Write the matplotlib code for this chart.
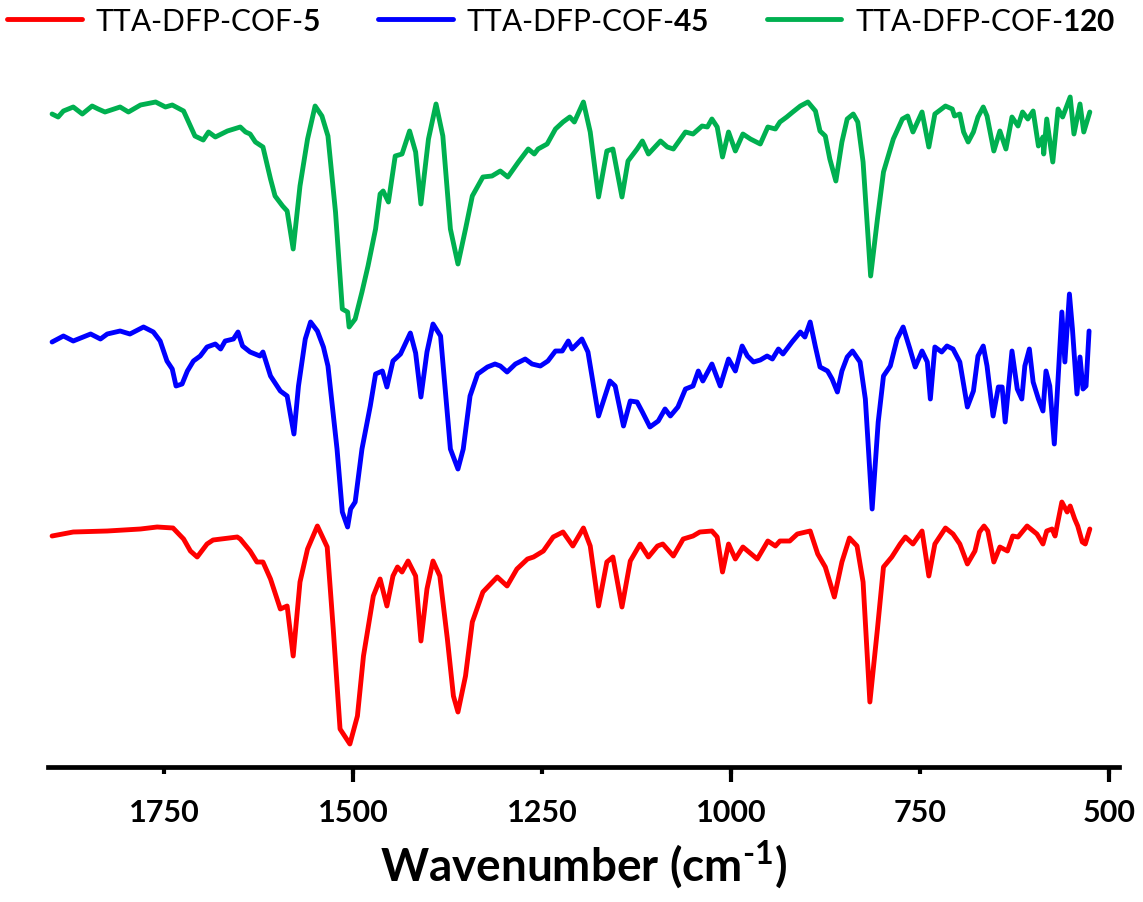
import matplotlib
matplotlib.use("Agg")
import matplotlib.pyplot as plt
from matplotlib.ticker import MultipleLocator

# FTIR spectra, stacked (a.u.), wavenumber in cm-1
wn_5 = [1898, 1870, 1825, 1781, 1759, 1738, 1724, 1715, 1706, 1693,
        1685, 1653, 1649, 1636, 1627, 1619, 1609, 1596, 1587, 1579,
        1570, 1560, 1547, 1534, 1526, 1517, 1504, 1494, 1486, 1473,
        1464, 1455, 1447, 1441, 1435, 1427, 1417, 1410, 1402, 1394,
        1385, 1375, 1367, 1361, 1351, 1342, 1328, 1309, 1296, 1283,
        1269, 1261, 1248, 1235, 1222, 1209, 1195, 1186, 1175, 1164,
        1156, 1144, 1133, 1120, 1109, 1097, 1090, 1076, 1063, 1050,
        1041, 1025, 1018, 1011, 1003, 994, 984, 965, 951, 941,
        935, 922, 912, 895, 885, 875, 863, 853, 843, 833,
        825, 816, 806, 798, 787, 776, 769, 759, 747, 738,
        730, 716, 706, 697, 687, 677, 671, 665, 660, 652,
        644, 634, 627, 620, 608, 595, 587, 582, 575, 571,
        562, 555, 551, 545, 541, 535, 531, 525]
t_5 = [229, 233, 234, 236, 238, 237, 226, 214, 208, 221,
       225, 228, 226, 214, 203, 203, 186, 156, 159, 109,
       183, 216, 239, 218, 136, 36, 21, 49, 109, 169,
       186, 159, 189, 198, 193, 204, 189, 124, 176, 204,
       189, 126, 69, 53, 89, 143, 173, 188, 179, 196,
       206, 208, 214, 228, 233, 219, 237, 219, 159, 203,
       208, 158, 204, 221, 208, 219, 221, 209, 226, 229,
       233, 234, 228, 193, 221, 206, 218, 206, 224, 219,
       224, 224, 231, 234, 211, 198, 168, 203, 227, 219,
       183, 63, 136, 198, 208, 221, 228, 221, 234, 189,
       221, 237, 231, 221, 201, 214, 233, 239, 234, 203,
       218, 214, 229, 228, 239, 231, 221, 234, 236, 229,
       263, 253, 259, 246, 239, 223, 221, 236]

wn_45 = [1898, 1883, 1870, 1847, 1834, 1825, 1808, 1795, 1777, 1764,
         1755, 1746, 1739, 1734, 1726, 1719, 1711, 1702, 1693, 1682,
         1675, 1669, 1658, 1652, 1646, 1636, 1623, 1619, 1609, 1596,
         1587, 1578, 1572, 1563, 1556, 1547, 1539, 1533, 1521, 1514,
         1507, 1503, 1497, 1488, 1477, 1470, 1461, 1455, 1447, 1437,
         1424, 1417, 1410, 1402, 1394, 1384, 1371, 1361, 1354, 1345,
         1335, 1322, 1312, 1305, 1296, 1285, 1272, 1263, 1252, 1242,
         1232, 1223, 1215, 1210, 1197, 1189, 1175, 1160, 1153, 1142,
         1133, 1124, 1117, 1107, 1096, 1087, 1080, 1070, 1060, 1050,
         1043, 1037, 1025, 1014, 1003, 994, 985, 978, 970, 961,
         952, 945, 937, 931, 919, 908, 902, 895, 888, 882,
         872, 866, 859, 853, 846, 839, 829, 822, 813, 805,
         798, 789, 780, 772, 763, 756, 747, 740, 736, 730,
         721, 714, 706, 697, 687, 679, 673, 666, 661, 653,
         646, 641, 637, 628, 621, 615, 611, 605, 600, 593,
         587, 583, 578, 572, 567, 562, 558, 552, 548, 542,
         538, 534, 530, 526]
t_45 = [423, 429, 424, 431, 426, 431, 434, 431, 438, 433,
        424, 404, 396, 379, 381, 394, 404, 409, 418, 421,
        416, 424, 426, 433, 419, 413, 409, 413, 389, 374,
        369, 331, 379, 426, 443, 434, 418, 399, 316, 253,
        238, 256, 263, 316, 359, 391, 394, 378, 404, 411,
        432, 412, 368, 413, 441, 429, 316, 296, 316, 369,
        391, 398, 401, 399, 393, 401, 406, 401, 399, 404,
        414, 414, 424, 416, 426, 413, 349, 384, 379, 339,
        364, 363, 353, 338, 344, 356, 349, 358, 376, 379,
        394, 384, 401, 379, 406, 394, 419, 409, 403, 405,
        409, 406, 416, 411, 423, 433, 428, 443, 418, 398,
        394, 386, 373, 394, 408, 414, 403, 366, 256, 343,
        389, 399, 426, 438, 416, 398, 414, 403, 366, 418,
        413, 419, 416, 403, 358, 374, 409, 419, 399, 349,
        378, 378, 343, 414, 376, 366, 399, 416, 383, 366,
        354, 394, 379, 321, 386, 453, 403, 471, 436, 371,
        408, 376, 379, 434]

wn_120 = [1898, 1890, 1883, 1870, 1858, 1845, 1837, 1828, 1808, 1797,
          1781, 1761, 1748, 1739, 1724, 1718, 1709, 1698, 1691, 1682,
          1666, 1649, 1642, 1636, 1629, 1619, 1609, 1603, 1593, 1587,
          1579, 1570, 1560, 1550, 1541, 1533, 1523, 1514, 1507, 1505,
          1497, 1488, 1480, 1470, 1464, 1460, 1453, 1444, 1435, 1425,
          1417, 1410, 1400, 1390, 1381, 1371, 1361, 1351, 1342, 1328,
          1316, 1305, 1295, 1281, 1268, 1260, 1255, 1243, 1232, 1222,
          1213, 1207, 1195, 1186, 1175, 1164, 1156, 1144, 1136, 1124,
          1117, 1109, 1093, 1084, 1076, 1060, 1050, 1038, 1031, 1025,
          1018, 1011, 1003, 994, 984, 974, 961, 951, 941, 935,
          926, 918, 908, 898, 888, 882, 875, 869, 861, 853,
          846, 838, 832, 825, 815, 806, 798, 785, 773, 766,
          759, 747, 738, 730, 716, 707, 704, 697, 692, 686,
          679, 673, 666, 661, 652, 644, 636, 628, 620, 614,
          607, 600, 593, 587, 586, 582, 574, 567, 561, 551,
          546, 538, 533, 525]
t_120 = [651, 648, 654, 658, 651, 659, 656, 653, 658, 653,
         660, 663, 658, 660, 654, 644, 629, 625, 633, 628,
         634, 638, 633, 631, 623, 618, 586, 569, 559, 554,
         516, 579, 626, 659, 649, 629, 553, 456, 453, 438,
         446, 473, 499, 536, 571, 574, 563, 609, 611, 634,
         613, 561, 626, 661, 629, 536, 501, 536, 569, 588,
         589, 594, 588, 603, 616, 611, 616, 621, 636, 643,
         648, 643, 663, 633, 568, 614, 616, 568, 604, 616,
         624, 611, 624, 618, 616, 633, 631, 639, 638, 646,
         638, 608, 633, 614, 631, 626, 621, 638, 636, 643,
         648, 653, 659, 663, 654, 634, 629, 606, 584, 623,
         646, 651, 643, 603, 489, 546, 593, 626, 646, 649,
         633, 653, 618, 651, 659, 656, 649, 651, 633, 623,
         633, 648, 658, 649, 614, 634, 616, 648, 639, 653,
         646, 654, 619, 628, 611, 646, 603, 656, 648, 668,
         631, 661, 633, 653]

labels = ["TTA-DFP-COF-$\\mathbf{5}$", "TTA-DFP-COF-$\\mathbf{45}$",
          "TTA-DFP-COF-$\\mathbf{120}$"]
colors = ["#FF0000", "#0000FF", "#00B050"]
tick_vals = [1750, 1500, 1250, 1000, 750, 500]
tick_labels = ["1750", "1500", "1250", "1000", "750", "500"]

plt.rcParams['font.family'] = 'Lato'
plt.rcParams['mathtext.fontset'] = 'custom'
plt.rcParams['mathtext.rm'] = 'Lato:bold'
plt.rcParams['mathtext.bf'] = 'Lato:bold'

fig = plt.figure(figsize=(11.43, 9.03), dpi=100)
ax = fig.add_axes([48.3 / 1143, 135 / 903, 1071 / 1143, 708 / 903])

series = [(wn_5, t_5), (wn_45, t_45), (wn_120, t_120)]
for (x, y), c, lab in zip(series, colors, labels):
    ax.plot(x, y, color=c, lw=3.5, label=lab,
            solid_joinstyle='round', solid_capstyle='round')

ax.set_xlim(1903, 486)
ax.set_ylim(-2, 706)

for s in ['left', 'top', 'right']:
    ax.spines[s].set_visible(False)
ax.spines['bottom'].set_linewidth(3.4)
ax.set_yticks([])

ax.set_xticks(tick_vals)
ax.set_xticklabels(tick_labels, fontweight='bold')
ax.xaxis.set_minor_locator(MultipleLocator(500))
ax.xaxis.remove_overlapping_locs = False
ax.tick_params(axis='x', which='major', length=5, width=3, pad=17,
               labelsize=22, direction='out')
ax.tick_params(axis='x', which='minor', length=11, width=3, direction='out')

ax.set_xlabel("Wavenumber (cm$^{\\text{-1}}$)", fontsize=33,
              fontweight='bold', labelpad=8)

fig.legend(loc='center left', bbox_to_anchor=(0.006, 0.976), ncol=3,
           frameon=False, fontsize=21.5, handlelength=2.5, handletextpad=0.45,
           columnspacing=1.95, borderpad=0, borderaxespad=0)

fig.savefig("out.png", dpi=100)
